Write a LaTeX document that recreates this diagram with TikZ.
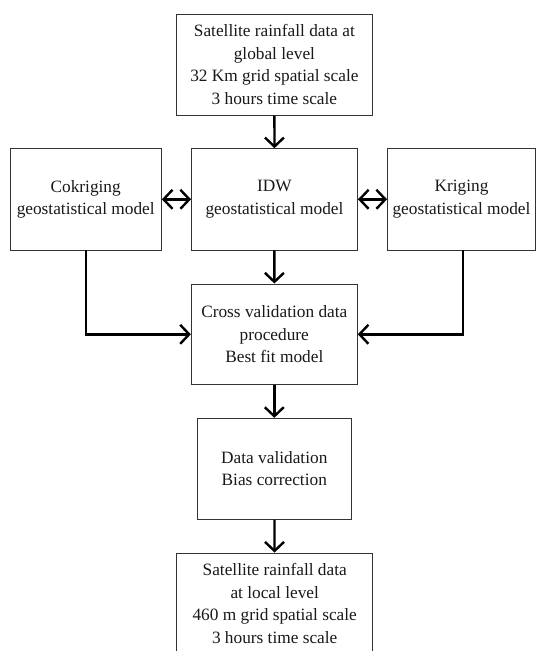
\documentclass[tikz,border=0pt]{standalone}
\usepackage{fontspec}
\setmainfont{Liberation Serif}
\usetikzlibrary{arrows.meta,calc}
\begin{document}
\begin{tikzpicture}[x=1pt,y=-1pt,
  box/.style={draw=black!80,line width=0.9pt,rectangle,align=center,inner sep=0pt,
    font=\fontsize{17.3}{22.5}\selectfont,text=black!90},
  conn/.style={line width=2.4pt,-{Straight Barb[length=9pt,width=19pt]}},
  dconn/.style={line width=2.4pt,{Straight Barb[length=9pt,width=19pt]}-{Straight Barb[length=9pt,width=19pt]}}]
\clip (0,0) rectangle (536,651);
\fill[white] (0,0) rectangle (536,651);
\node[box,minimum width=196pt,minimum height=101pt] (top) at (274.4,64.7)
  {Satellite rainfall data at\\global level\\32 Km grid spatial scale\\3 hours time scale};
\node[box,minimum width=151.4pt,minimum height=101.3pt] (cok) at (85.7,199.3)
  {Cokriging\\geostatistical model};
\node[box,minimum width=166pt,minimum height=101.3pt] (idw) at (274.5,199.3)
  {IDW\\geostatistical model};
\node[box,minimum width=148pt,minimum height=101.3pt] (kri) at (461.5,199.3)
  {Kriging\\geostatistical model};
\node[box,minimum width=166pt,minimum height=100.7pt] (cross) at (274.3,334.3)
  {Cross validation data\\procedure\\Best fit model};
\node[box,minimum width=154.7pt,minimum height=101pt] (data) at (274.3,468.8)
  {Data validation\\Bias correction};
\node[box,minimum width=196pt,minimum height=101pt] (bot) at (274.7,603.5)
  {Satellite rainfall data\\at local level\\460 m grid spatial scale\\3 hours time scale};
\draw[conn] (top) -- (idw);
\draw[dconn] (cok) -- (idw);
\draw[dconn] (idw) -- (kri);
\draw[conn] (idw) -- (cross);
\draw[conn] (cok.south) |- (cross.west);
\draw[conn] ($(kri.south)+(1.5,0)$) |- (cross.east);
\draw[conn] (cross) -- (data);
\draw[conn] (data) -- (bot);
\end{tikzpicture}
\end{document}
